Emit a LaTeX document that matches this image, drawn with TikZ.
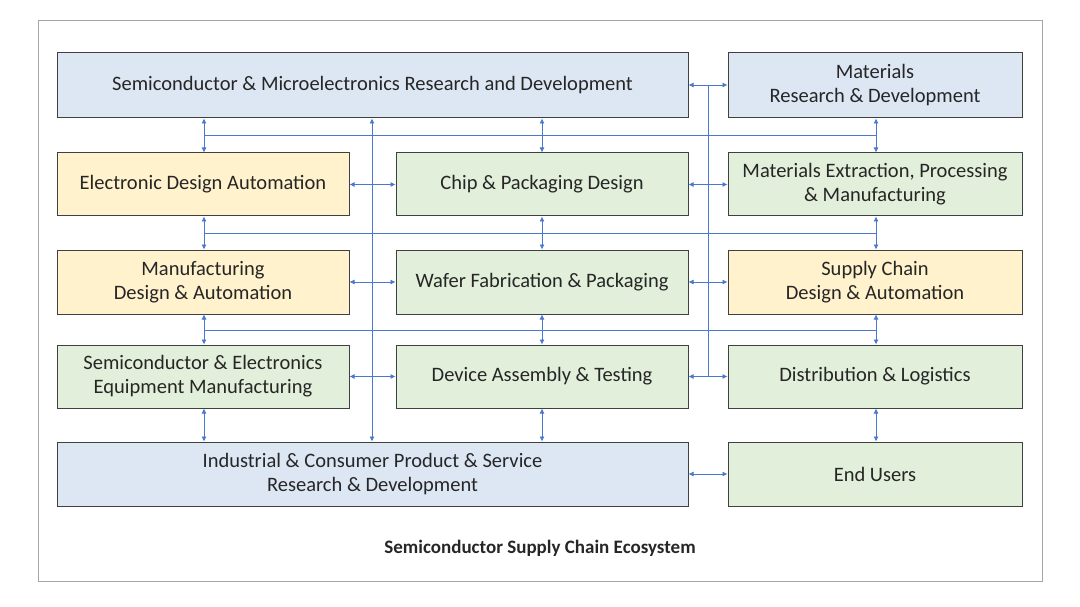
\documentclass[tikz,border=0pt]{standalone}
\usepackage{fontspec}
\setmainfont{Carlito}
\usetikzlibrary{arrows.meta}
\definecolor{bfill}{HTML}{DDE7F4}
\definecolor{gfill}{HTML}{E2EFDA}
\definecolor{yfill}{HTML}{FFF2CC}
\definecolor{lc}{HTML}{4A78CC}
\definecolor{bd}{HTML}{404040}
\begin{document}
\begin{tikzpicture}[x=1pt,y=-1pt,
  box/.style={draw=bd,line width=1pt,inner sep=0pt,align=center,font=\fontsize{20.5}{24}\selectfont,text=black!85},
  con/.style={draw=lc,line width=0.7pt},
  ar/.style={con,{Latex[length=5pt,width=5pt]}-{Latex[length=5pt,width=5pt]}},
  ae/.style={con,-{Latex[length=5pt,width=5pt]}}]
\path[use as bounding box] (0,0) rectangle (1080,607);
\draw[black!35,line width=0.8pt] (38,20) rectangle (1042,581);
% boxes
\newcommand{\bx}[7]{\node[box,fill=#6,minimum width=#4-#2,minimum height=#5-#3] (#1) at ({(#2+#4)/2},{(#3+#5)/2}) {#7};}
\bx{srd}{57}{53}{688}{118}{bfill}{Semiconductor \& Microelectronics Research and Development}
\bx{mrd}{728}{53}{1022}{118}{bfill}{Materials\\Research \& Development}
\bx{eda}{57}{153}{349}{216}{yfill}{Electronic Design Automation}
\bx{cpd}{396}{153}{688}{216}{gfill}{Chip \& Packaging Design}
\bx{mep}{728}{153}{1022}{216}{gfill}{Materials Extraction, Processing\\\& Manufacturing}
\bx{mda}{57}{250}{349}{314}{yfill}{Manufacturing\\Design \& Automation}
\bx{wfp}{396}{250}{688}{314}{gfill}{Wafer Fabrication \& Packaging}
\bx{scd}{728}{250}{1022}{314}{yfill}{Supply Chain\\Design \& Automation}
\bx{see}{57}{345}{349}{408}{gfill}{Semiconductor \& Electronics\\Equipment Manufacturing}
\bx{dat}{396}{345}{688}{408}{gfill}{Device Assembly \& Testing}
\bx{dl}{728}{345}{1022}{408}{gfill}{Distribution \& Logistics}
\bx{icp}{57}{442}{688}{506}{bfill}{Industrial \& Consumer Product \& Service\\Research \& Development}
\bx{eu}{728}{442}{1022}{506}{gfill}{End Users}
\node[font=\bfseries\fontsize{19}{22}\selectfont,text=black!85] (cap) at (540,548) {Semiconductor Supply Chain Ecosystem};
% horizontal bus lines
\foreach \y/\n in {135/h1,233/h2,330/h3}{
  \coordinate (\n a) at (204,\y); \coordinate (\n b) at (876,\y);
  \draw[con] (\n a) -- (\n b);}
% vertical arrows between rows
\foreach \a/\b in {srd/eda,eda/mda,mda/see,see/icp}{\draw[ar] (\a.south -| 204,0) -- (\b.north -| 204,0);}
\foreach \a/\b in {srd/cpd,cpd/wfp,wfp/dat,dat/icp}{\draw[ar] (\a.south -| 542,0) -- (\b.north -| 542,0);}
\foreach \a/\b in {mrd/mep,mep/scd,scd/dl,dl/eu}{\draw[ar] (\a.south -| 876,0) -- (\b.north -| 876,0);}
% horizontal arrows
\foreach \a/\b in {eda/cpd,mda/wfp,see/dat}{\draw[ar] (\a.east) -- (\b.west);}
\foreach \a/\b in {cpd/mep,wfp/scd,icp/eu}{\draw[ar] (\a.east) -- (\b.west);}
\draw[ar] (srd.east |- 0,85) -- (mrd.west |- 0,85);
\draw[ar] (dat.east) -- (dl.west);
\coordinate (vt) at (708,85); \coordinate (vb) at (708,377);
\draw[con] (vt) -- (vb);
% long vertical
\draw[ar] (srd.south -| 372,0) -- (icp.north -| 372,0);
\end{tikzpicture}
\end{document}
